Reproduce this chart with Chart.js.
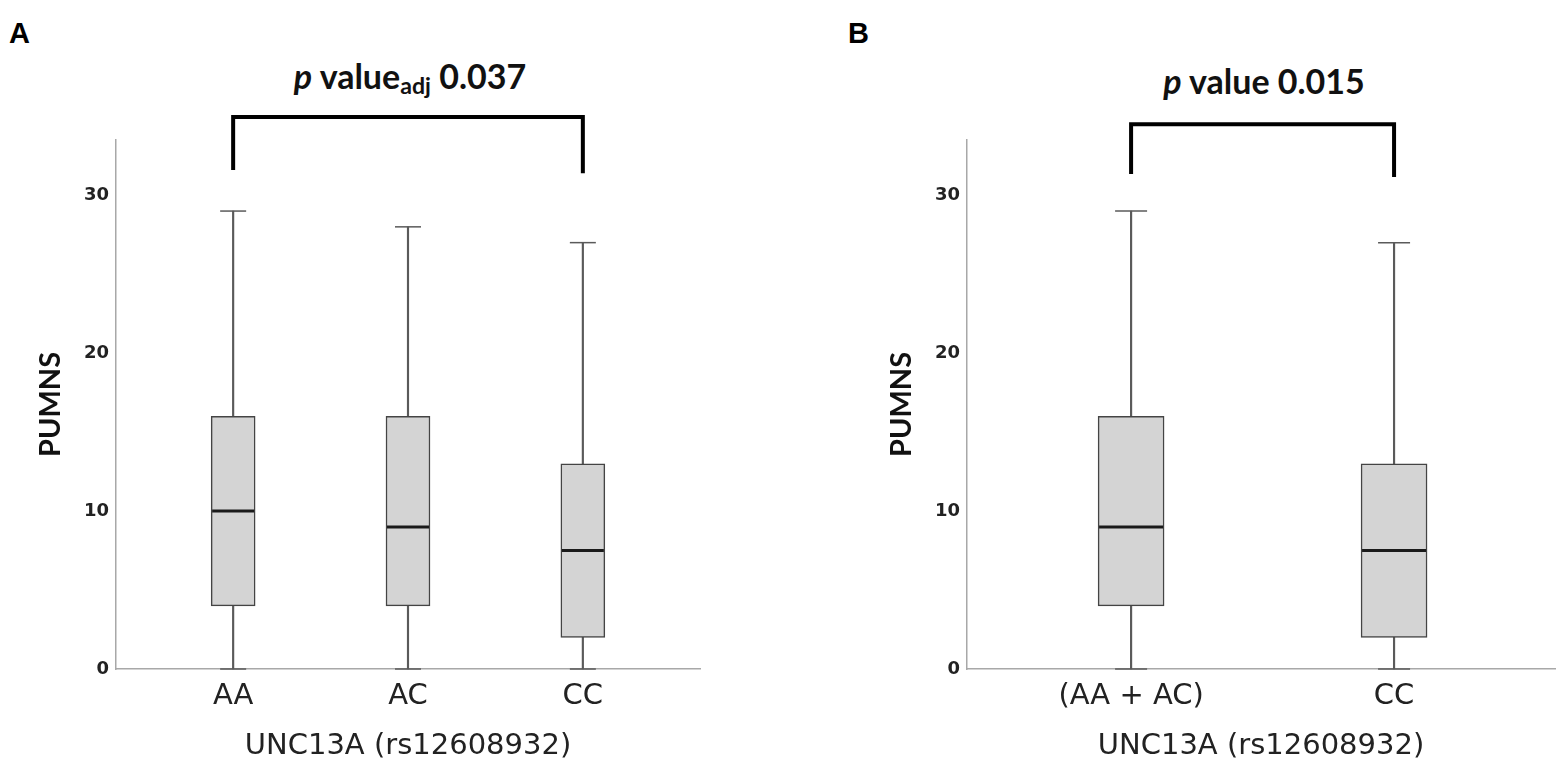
<!DOCTYPE html>
<html>
<head>
<meta charset="utf-8">
<script src="https://cdn.jsdelivr.net/npm/chart.js@4.4.1/dist/chart.umd.min.js"></script>
<style>
  body { margin: 0; background: #fff; width: 1562px; height: 767px; position: relative; overflow: hidden; }
  .wrap { position: absolute; top: 0; height: 767px; }
  .letter { position: absolute; font: bold 29px "Liberation Sans", Arial, sans-serif; color: #000; }
  .ttl { position: absolute; transform: translate(-50%, -50%); font: bold 34px Lato, sans-serif; color: #111; white-space: nowrap; }
  .ttl sub { font-size: 0.68em; vertical-align: -0.22em; }
</style>
</head>
<body>
<div class="letter" style="left:9px;top:17px">A</div>
<div class="letter" style="left:848px;top:17px">B</div>
<div class="ttl" style="left:410px;top:77px"><i>p</i> value<sub>adj</sub> 0.037</div>
<div class="ttl" style="left:1264px;top:80px"><i>p</i> value 0.015</div>
<div class="wrap" style="left:0px;width:780px"><canvas id="chartA"></canvas></div>
<div class="wrap" style="left:851px;width:711px"><canvas id="chartB"></canvas></div>
<script>
// valores
var yTicks = [0, 10, 20, 30];

var catsA = ['AA', 'AC', 'CC'];
var minA = [0, 0, 0];
var q1A = [4, 4, 2];
var medA = [10, 9, 7.5];
var q3A = [16, 16, 13];
var maxA = [29, 28, 27];

var catsB = ['(AA + AC)', 'CC'];
var minB = [0, 0];
var q1B = [4, 2];
var medB = [9, 7.5];
var q3B = [16, 13];
var maxB = [29, 27];

// colchete com o p-valor em cima das caixas
var bracketPlugin = {
  id: 'bracket',
  afterDraw: function (chart, args, opts) {
    var ctx = chart.ctx;
    var x = chart.scales.x, y = chart.scales.y;
    var x1 = x.getPixelForValue(opts.from);
    var x2 = x.getPixelForValue(opts.to);
    ctx.save();
    ctx.lineWidth = 4;
    ctx.strokeStyle = '#000';
    ctx.lineJoin = 'miter';
    ctx.beginPath();
    ctx.moveTo(x1, y.getPixelForValue(opts.leftEnd));
    ctx.lineTo(x1, y.getPixelForValue(opts.top));
    ctx.lineTo(x2, y.getPixelForValue(opts.top));
    ctx.lineTo(x2, y.getPixelForValue(opts.rightEnd));
    ctx.stroke();
    ctx.restore();
  }
};

function criarGrafico(id, cats, mins, q1s, meds, q3s, maxs, cfg) {
  var whisk = cats.map(function (c, i) { return { x: i, y: [mins[i], maxs[i]] }; });
  var box = cats.map(function (c, i) { return { x: i, y: [q1s[i], q3s[i]] }; });
  var med = cats.map(function (c, i) { return { x: i, y: meds[i] }; });
  var caps = [];
  cats.forEach(function (c, i) {
    caps.push({ x: i, y: mins[i] });
    caps.push({ x: i, y: maxs[i] });
  });

  return new Chart(document.getElementById(id), {
    type: 'bar',
    data: {
      datasets: [{
        data: whisk,
        backgroundColor: '#5a5a5a',
        barThickness: 1.5,
        grouped: false,
        order: 3,
        clip: false
      }, {
        data: box,
        backgroundColor: '#d4d4d4',
        borderColor: '#444',
        borderWidth: 1.5,
        borderSkipped: false,
        barThickness: cfg.boxW,
        grouped: false,
        order: 2,
        clip: false
      }, {
        type: 'line',
        data: caps,
        showLine: false,
        pointStyle: 'line',
        pointRadius: cfg.capR,
        pointBorderWidth: 1.5,
        pointBorderColor: '#5a5a5a',
        order: 1,
        clip: false
      }, {
        type: 'line',
        data: med,
        showLine: false,
        pointStyle: 'line',
        pointRadius: cfg.boxW / 2 - 1,
        pointBorderWidth: 3,
        pointBorderColor: '#1a1a1a',
        order: 0,
        clip: false
      }]
    },
    options: {
      responsive: true,
      maintainAspectRatio: false,
      animation: false,
      events: [],
      layout: { autoPadding: false, padding: { top: 140, left: 0, right: cfg.padR, bottom: 0 } },
      plugins: {
        legend: { display: false },
        tooltip: { enabled: false },
        bracket: cfg.bracket
      },
      scales: {
        x: {
          type: 'linear',
          offset: false,
          min: cfg.xMin,
          max: cfg.xMax,
          afterBuildTicks: function (s) { s.ticks = cats.map(function (c, i) { return { value: i }; }); },
          afterFit: function (s) { s.height = 98; },
          grid: { display: false, drawTicks: false },
          border: { display: true, color: '#a8a8a8', width: 1.5 },
          ticks: {
            padding: 10,
            maxRotation: 0,
            autoSkip: false,
            color: '#222',
            font: { family: 'DejaVu Sans', size: 29 },
            callback: function (v) { return cats[v]; }
          },
          title: {
            display: true,
            text: 'UNC13A (rs12608932)',
            color: '#222',
            font: { family: 'DejaVu Sans', size: 29 },
            padding: { top: 0, bottom: 3 }
          }
        },
        y: {
          min: 0,
          max: 33.5,
          afterBuildTicks: function (s) { s.ticks = yTicks.map(function (v) { return { value: v }; }); },
          afterFit: function (s) { s.width = cfg.yW; },
          grid: { display: false, drawTicks: false },
          border: { display: true, color: '#a8a8a8', width: 1.5 },
          ticks: {
            padding: 7,
            color: '#222',
            font: { family: 'DejaVu Sans', size: 18, weight: 'bold' }
          },
          title: {
            display: true,
            text: 'PUMNS',
            color: '#111',
            font: { family: 'Lato', size: 29, weight: 'bold' },
            padding: { top: 33, bottom: 0 }
          }
        }
      }
    },
    plugins: [bracketPlugin]
  });
}

criarGrafico('chartA', catsA, minA, q1A, medA, q3A, maxA, {
  boxW: 44, capR: 13, xMin: -0.67, xMax: 2.67, padR: 80, yW: 116,
  bracket: { from: 0, to: 2, top: 34.95, leftEnd: 31.6, rightEnd: 31.4 }
});

criarGrafico('chartB', catsB, minB, q1B, medB, q3B, maxB, {
  boxW: 66, capR: 16, xMin: -0.624, xMax: 1.612, padR: 7, yW: 116,
  bracket: { from: 0, to: 1, top: 34.5, leftEnd: 31.35, rightEnd: 31.15 }
});
</script>
</body>
</html>
